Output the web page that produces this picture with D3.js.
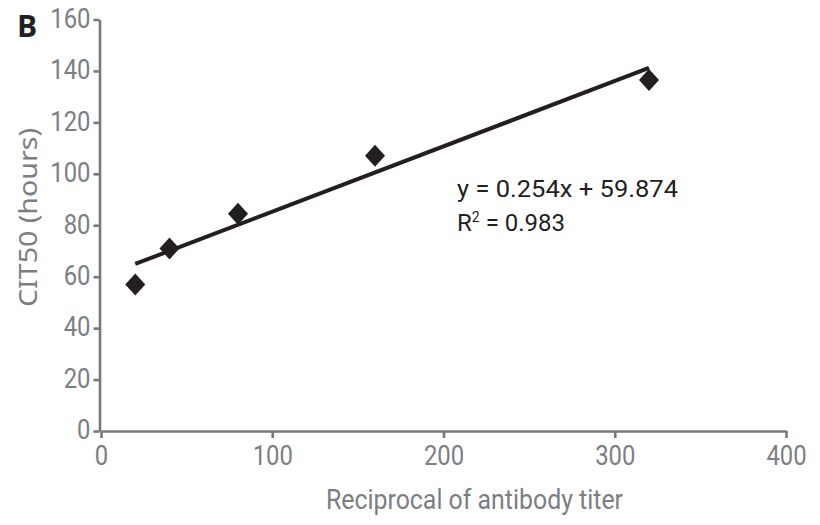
<!DOCTYPE html>
<html>
<head>
<meta charset="utf-8">
<script src="https://cdn.jsdelivr.net/npm/d3@7"></script>
<style>
  body { margin: 0; background: #fff; }
  svg { display: block; }
</style>
</head>
<body>
<svg id="chart" width="820" height="525"></svg>
<script>
// ---- data ----
const titers = [20, 40, 80, 160, 320];
const cit50 = [57, 71, 84.5, 107, 136.5];
const xTicks = [0, 100, 200, 300, 400];
const yTicks = [0, 20, 40, 60, 80, 100, 120, 140, 160];
const slope = 0.254;
const intercept = 59.874;
const eqLabel = "y = 0.254x + 59.874";
const r2Value = "0.983";
const xTitle = "Reciprocal of antibody titer";
const yTitle = "CIT50 (hours)";
const panelLabel = "B";

const svg = d3.select("#chart");
const x = d3.scaleLinear().domain([0, 400]).range([101, 786]);
const y = d3.scaleLinear().domain([0, 160]).range([431, 19.5]);

const axisColor = "#76787d";
const labelColor = "#7b7e84";
const font = "Roboto, 'Noto Sans', sans-serif";

// axes
const xAxis = svg.append("g").attr("transform", `translate(0,${y(0)})`)
  .call(d3.axisBottom(x).tickValues(xTicks).tickSize(7).tickSizeOuter(0).tickFormat(d3.format("d")));
const yAxis = svg.append("g").attr("transform", `translate(${x(0) - 1.5},0)`)
  .call(d3.axisLeft(y).tickValues(yTicks).tickSize(6).tickSizeOuter(0).tickFormat(d3.format("d")));

[xAxis, yAxis].forEach(g => {
  g.select(".domain").attr("stroke", axisColor).attr("stroke-width", 2.6);
  g.selectAll(".tick line").attr("stroke", axisColor).attr("stroke-width", 2.6);
  g.selectAll(".tick text")
    .attr("fill", labelColor)
    .style("font-family", font)
    .style("font-size", "28px")
    .attr("textLength", d => String(d).length * 13.4)
    .attr("lengthAdjust", "spacingAndGlyphs");
});
xAxis.selectAll(".tick text").attr("y", 14).attr("dy", "0.71em");
yAxis.selectAll(".tick text").attr("x", -9).attr("dy", "0.28em");

// trend line
const xs = [d3.min(titers), d3.max(titers)];
svg.append("line")
  .attr("x1", x(xs[0])).attr("y1", y(slope * xs[0] + intercept))
  .attr("x2", x(xs[1])).attr("y2", y(slope * xs[1] + intercept))
  .attr("stroke", "#231f20").attr("stroke-width", 4);

// diamonds
const hw = 10, hh = 11;
svg.append("g").selectAll("path")
  .data(titers.map((t, i) => [t, cit50[i]]))
  .join("path")
  .attr("transform", d => `translate(${x(d[0])},${y(d[1])})`)
  .attr("d", `M0,${-hh}L${hw},0L0,${hh}L${-hw},0Z`)
  .attr("fill", "#231f20");

// equation text
svg.append("text")
  .attr("x", 457).attr("y", 197)
  .attr("fill", "#231f20")
  .style("font-family", font).style("font-size", "24px")
  .attr("textLength", 221).attr("lengthAdjust", "spacingAndGlyphs")
  .text(eqLabel);
const r2 = svg.append("text")
  .attr("x", 457).attr("y", 231)
  .attr("fill", "#231f20")
  .style("font-family", font).style("font-size", "24px");
r2.append("tspan").text("R");
r2.append("tspan").attr("dy", -9).style("font-size", "14px").text("2");
r2.append("tspan").attr("dy", 9).text(" = " + r2Value);

// axis titles
svg.append("text")
  .attr("x", 326).attr("y", 509)
  .attr("fill", labelColor)
  .style("font-family", font).style("font-size", "28px")
  .attr("textLength", 297).attr("lengthAdjust", "spacingAndGlyphs")
  .text(xTitle);
svg.append("text")
  .attr("transform", "translate(37,307) rotate(-90)")
  .attr("fill", labelColor)
  .style("font-family", "'Noto Sans', Roboto, sans-serif").style("font-size", "26px")
  .attr("textLength", 179).attr("lengthAdjust", "spacingAndGlyphs")
  .text(yTitle);

// panel label
svg.append("text")
  .attr("x", 17).attr("y", 37)
  .attr("fill", "#231f20")
  .style("font-family", "'Open Sans', Roboto, sans-serif").style("font-size", "30px").style("font-weight", "bold")
  .text(panelLabel);
</script>
</body>
</html>
